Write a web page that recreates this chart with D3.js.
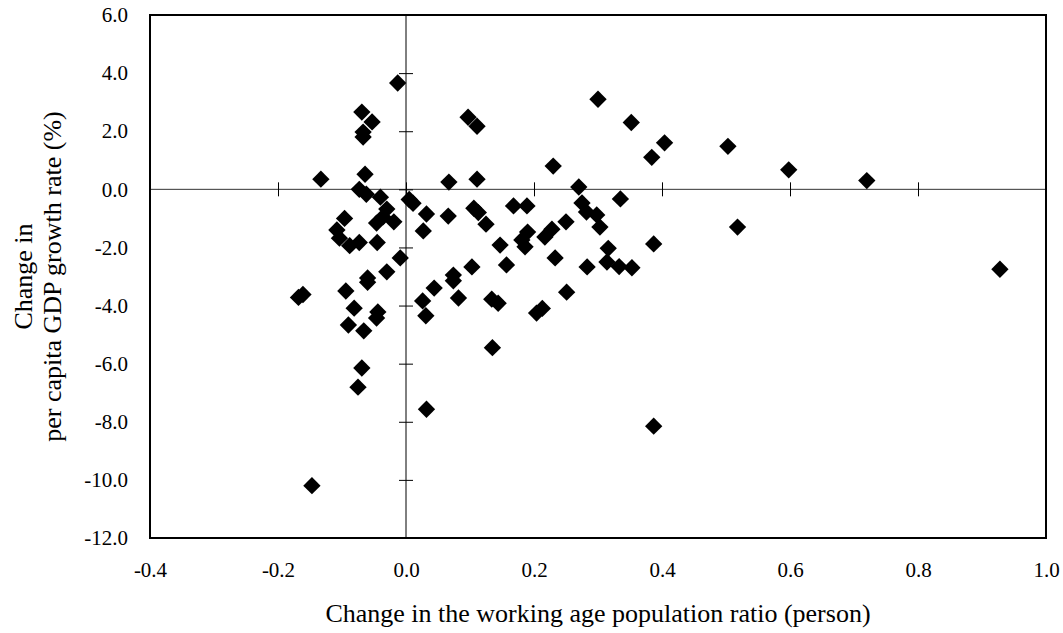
<!DOCTYPE html>
<html>
<head>
<meta charset="utf-8">
<script src="https://cdn.jsdelivr.net/npm/d3@7"></script>
<style>
    body { margin: 0; background: #fff; }
    #chart text { font-family: "Liberation Serif", "Times New Roman", serif; fill: #000; }
</style>
</head>
<body>
<div id="chart"></div>
<script>
// change in the working age population ratio (person)
const workingAgeChange = [
    -0.013, -0.069, -0.053, -0.067, -0.067, -0.133, -0.064, 0.067, -0.073, -0.062,
    -0.040, 0.005, 0.011, 0.032, 0.066, -0.096, -0.030, -0.036, -0.046, -0.019,
    0.027, -0.108, -0.104, -0.088, -0.073, -0.045, -0.009, -0.030, -0.060, -0.060,
    0.074, 0.074, 0.044, 0.082, -0.168, -0.161, -0.094, 0.026, -0.081, -0.044,
    -0.046, 0.031, -0.090, -0.066, -0.069, -0.075, 0.032, -0.147, 0.097, 0.111,
    0.111, 0.230, 0.300, 0.270, 0.106, 0.113, 0.125, 0.168, 0.189, 0.190,
    0.147, 0.181, 0.186, 0.228, 0.217, 0.250, 0.275, 0.282, 0.298, 0.303,
    0.233, 0.283, 0.157, 0.103, 0.134, 0.144, 0.251, 0.204, 0.213, 0.135,
    0.352, 0.404, 0.384, 0.503, 0.335, 0.518, 0.387, 0.316, 0.314, 0.333,
    0.353, 0.598, 0.720, 0.928, 0.387
];
// change in per capita GDP growth rate (%)
const gdpGrowthChange = [
    3.66, 2.66, 2.32, 1.97, 1.80, 0.35, 0.52, 0.25, 0.00, -0.17,
    -0.27, -0.35, -0.48, -0.85, -0.92, -1.00, -0.68, -0.95, -1.16, -1.12,
    -1.43, -1.40, -1.68, -1.94, -1.83, -1.83, -2.36, -2.84, -3.05, -3.20,
    -2.95, -3.15, -3.40, -3.74, -3.72, -3.62, -3.50, -3.84, -4.09, -4.22,
    -4.43, -4.35, -4.67, -4.87, -6.15, -6.81, -7.57, -10.20, 2.48, 2.17,
    0.35, 0.80, 3.10, 0.08, -0.65, -0.80, -1.20, -0.57, -0.57, -1.47,
    -1.92, -1.74, -1.98, -1.37, -1.64, -1.12, -0.47, -0.78, -0.88, -1.30,
    -2.36, -2.67, -2.60, -2.67, -3.78, -3.92, -3.54, -4.26, -4.10, -5.45,
    2.30, 1.60, 1.10, 1.48, -0.33, -1.30, -1.88, -2.03, -2.50, -2.66,
    -2.70, 0.67, 0.30, -2.75, -8.15
];
const xTickValues = [-0.4, -0.2, 0.0, 0.2, 0.4, 0.6, 0.8, 1.0];
const yTickValues = [6, 4, 2, 0, -2, -4, -6, -8, -10, -12];
const xTitle = 'Change in the working age population ratio (person)';
const yTitleLines = ['Change in', 'per capita GDP growth rate (%)'];

class Scatter {

    constructor(_config, _x, _y) {
        this.config = {
            parentElement: _config.parentElement,
            containerWidth: _config.width,
            containerHeight: _config.height,
        }
        this.margin = _config.margin;
        this.data = _x.map((d, i) => ({x: d, y: _y[i]}));
        this.initVis();
    }

    initVis() {
        let vis = this;
        vis.width = vis.config.containerWidth - vis.margin.left - vis.margin.right;
        vis.height = vis.config.containerHeight - vis.margin.top - vis.margin.bottom;
        // scales
        vis.xScale = d3.scaleLinear()
            .domain([-0.4, 1.0])
            .range([0, vis.width]);
        vis.yScale = d3.scaleLinear()
            .domain([-12, 6])
            .range([vis.height, 0]);
        vis.svg = d3.select(vis.config.parentElement)
            .append('svg')
            .attr('width', vis.config.containerWidth)
            .attr('height', vis.config.containerHeight)
            .append('g')
            .attr('transform', `translate(${vis.margin.left}, ${vis.margin.top})`);
        vis.renderVis();
    }

    renderVis() {
        let vis = this;
        const fmt = (d) => d.toFixed(1);
        const x0 = vis.xScale(0), y0 = vis.yScale(0);

        // zero lines
        vis.svg.append('line')
            .attr('x1', 0).attr('x2', vis.width)
            .attr('y1', y0).attr('y2', y0)
            .attr('stroke', '#333').attr('stroke-width', 1);
        vis.svg.append('line')
            .attr('x1', x0).attr('x2', x0)
            .attr('y1', 0).attr('y2', vis.height)
            .attr('stroke', '#000').attr('stroke-width', 1);

        // crossing ticks sitting on the zero lines
        const xCross = vis.svg.append('g')
            .attr('transform', `translate(0, ${y0 - 7})`)
            .call(d3.axisBottom(vis.xScale).tickValues(xTickValues.slice(1, -1)).tickSize(14).tickFormat(''));
        const yCross = vis.svg.append('g')
            .attr('transform', `translate(${x0 - 7}, 0)`)
            .call(d3.axisRight(vis.yScale).tickValues(yTickValues.slice(1, -1)).tickSize(14).tickFormat(''));
        [xCross, yCross].forEach((g) => {
            g.select('.domain').remove();
            g.selectAll('.tick line').attr('stroke', '#000').attr('stroke-width', 1);
        });

        // tick labels outside the frame
        const xLab = vis.svg.append('g')
            .attr('transform', `translate(0, ${vis.height})`)
            .call(d3.axisBottom(vis.xScale).tickValues(xTickValues).tickSize(0).tickPadding(24).tickFormat(fmt));
        const yLab = vis.svg.append('g')
            .call(d3.axisLeft(vis.yScale).tickValues(yTickValues).tickSize(0).tickPadding(22).tickFormat(fmt));
        [xLab, yLab].forEach((g) => {
            g.select('.domain').remove();
            g.selectAll('text').attr('font-size', 21);
        });

        // points
        vis.svg.selectAll('.pt')
            .data(vis.data)
            .join('path')
            .attr('class', 'pt')
            .attr('d', d3.symbol(d3.symbolSquare, 150))
            .attr('transform', d => `translate(${vis.xScale(d.x)}, ${vis.yScale(d.y)}) rotate(45)`)
            .attr('fill', '#000');

        // frame
        vis.svg.append('rect')
            .attr('x', 0).attr('y', 0)
            .attr('width', vis.width).attr('height', vis.height)
            .attr('fill', 'none')
            .attr('stroke', '#000')
            .attr('stroke-width', 2);

        // titles
        vis.svg.append('text')
            .attr('x', vis.width / 2)
            .attr('y', vis.height + 84)
            .attr('text-anchor', 'middle')
            .attr('font-size', 26)
            .text(xTitle);
        const yt = vis.svg.append('text')
            .attr('transform', `translate(${-vis.margin.left}, ${vis.height / 2}) rotate(-90)`)
            .attr('text-anchor', 'middle')
            .attr('font-size', 26);
        yTitleLines.forEach((t, i) => {
            yt.append('tspan')
                .attr('x', 0)
                .attr('y', 32 + i * 29)
                .text(t);
        });
    }
}

const scatter = new Scatter({
    parentElement: '#chart',
    width: 1063,
    height: 633,
    margin: {top: 15, right: 17, bottom: 95, left: 150}
}, workingAgeChange, gdpGrowthChange);
</script>
</body>
</html>
